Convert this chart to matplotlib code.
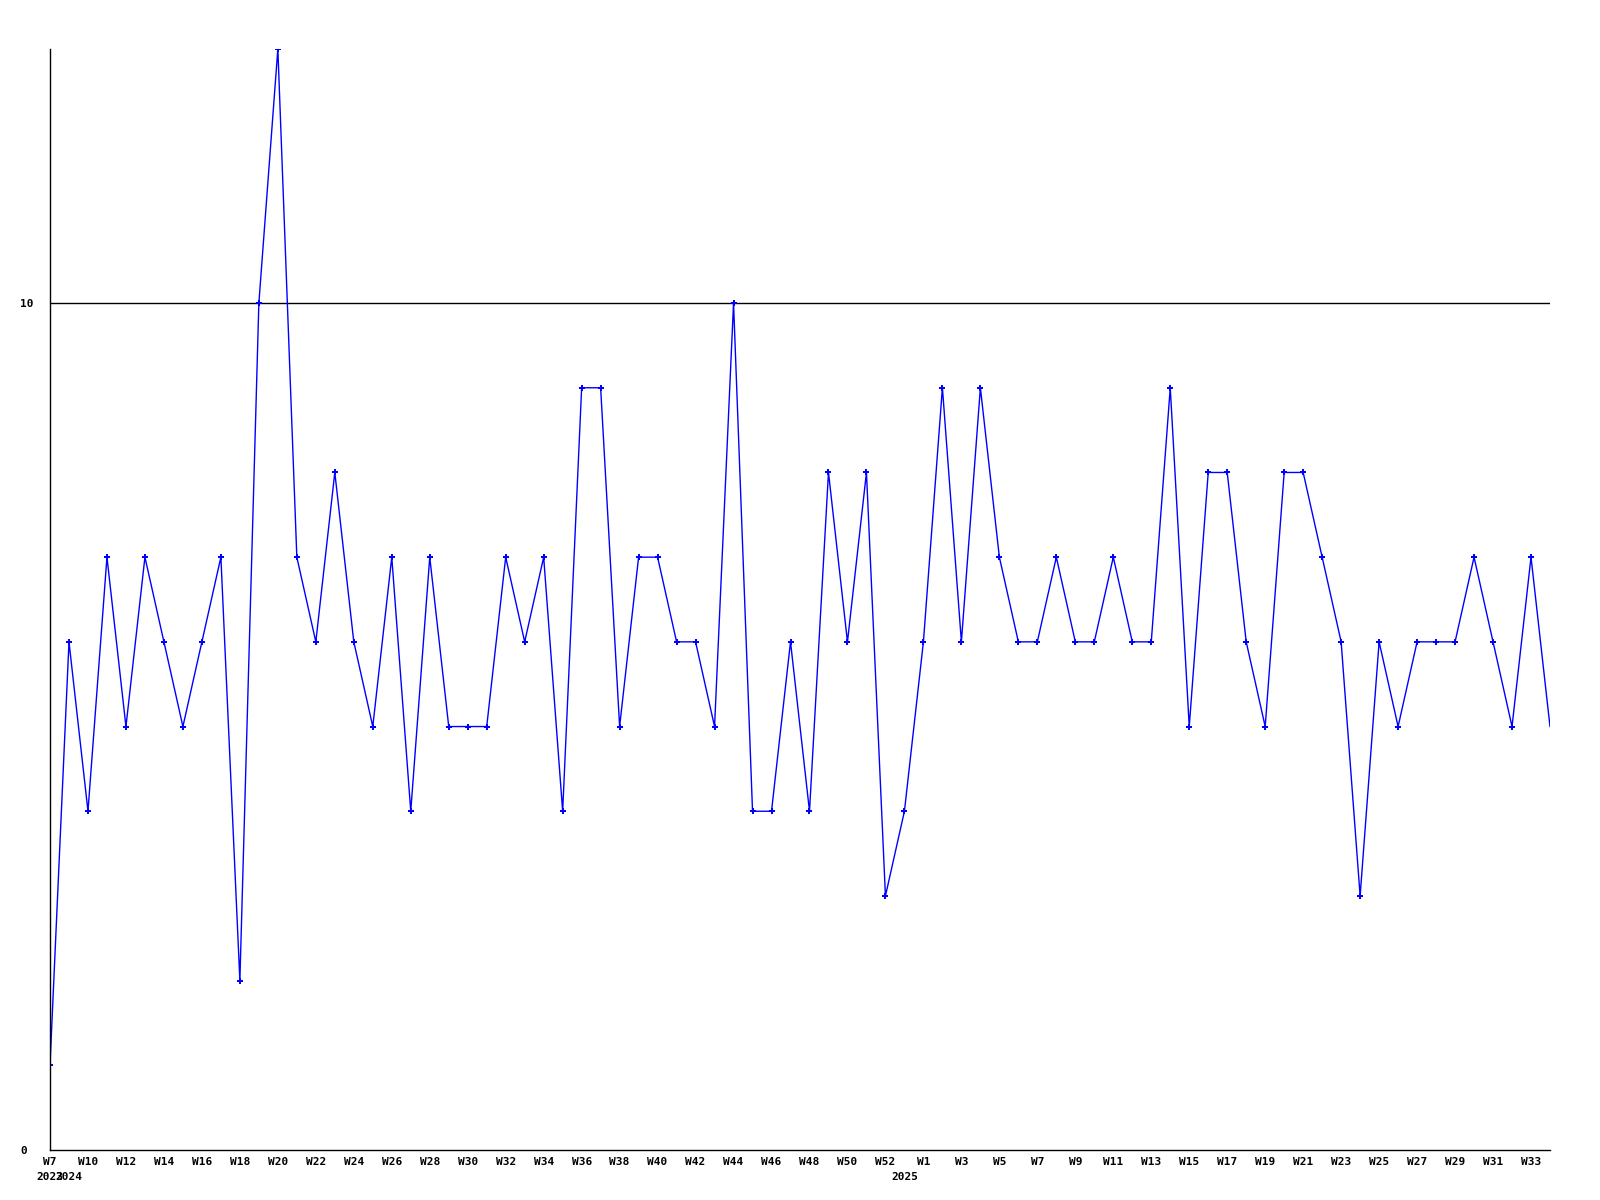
import matplotlib
matplotlib.use('Agg')
from matplotlib import pyplot as plt
from matplotlib import transforms

# weekly counts, first point is the left edge of the chart
values = [1, 6, 4, 7, 5, 7, 6, 5, 6, 7,
          2, 10, 13, 7, 6, 8, 6, 5, 7, 4,
          7, 5, 5, 5, 7, 6, 7, 4, 9, 9,
          5, 7, 7, 6, 6, 5, 10, 4, 4, 6,
          4, 8, 6, 8, 3, 4, 6, 9, 6, 9,
          7, 6, 6, 7, 6, 6, 7, 6, 6, 9,
          5, 8, 8, 6, 5, 8, 8, 7, 6, 3,
          6, 5, 6, 6, 6, 7, 6, 5, 7, 5]

tick_pos = list(range(0, 80, 2))
tick_labels = ["W7", "W10", "W12", "W14", "W16", "W18", "W20", "W22", "W24", "W26",
               "W28", "W30", "W32", "W34", "W36", "W38", "W40", "W42", "W44", "W46",
               "W48", "W50", "W52", "W1", "W3", "W5", "W7", "W9", "W11", "W13",
               "W15", "W17", "W19", "W21", "W23", "W25", "W27", "W29", "W31", "W33"]
year_pos = [0, 1, 45]
year_labels = ["2023", "2024", "2025"]

font = {'family': 'DejaVu Sans Mono', 'weight': 'bold', 'size': 8}

fig = plt.figure(figsize=(16, 12), dpi=100)
ax = fig.add_axes([50 / 1600, 50 / 1200, 1500 / 1600, 1101 / 1200])

x = list(range(len(values)))
ax.plot(x, values, color='#0000ff', linewidth=1, marker='P', markersize=4,
        markeredgewidth=0, markevery=list(range(len(values) - 1)))
ax.axhline(10, color='black', linewidth=1, zorder=0)

ax.set_xlim(0, len(values) - 1)
ax.set_ylim(0, 13)

for s in ['top', 'right']:
    ax.spines[s].set_visible(False)
for s in ['left', 'bottom']:
    ax.spines[s].set_color('black')
    ax.spines[s].set_linewidth(1)

ax.set_yticks([0, 10])
ax.set_yticklabels(['0', '10'], fontdict=font)
for lab in ax.get_yticklabels():
    lab.set_horizontalalignment('left')
ax.tick_params(axis='y', length=0, pad=21.6)

ax.set_xticks(tick_pos)
ax.set_xticklabels(tick_labels, fontdict=font)
ax.tick_params(axis='x', length=0, pad=5)

# year labels below the week labels
trans = transforms.blended_transform_factory(ax.transData, fig.transFigure)
for p, yr in zip(year_pos, year_labels):
    ax.text(p, 1 - 1177 / 1200, yr, transform=trans, ha='center', va='center',
            **font)

fig.savefig('out.png', dpi=100)
